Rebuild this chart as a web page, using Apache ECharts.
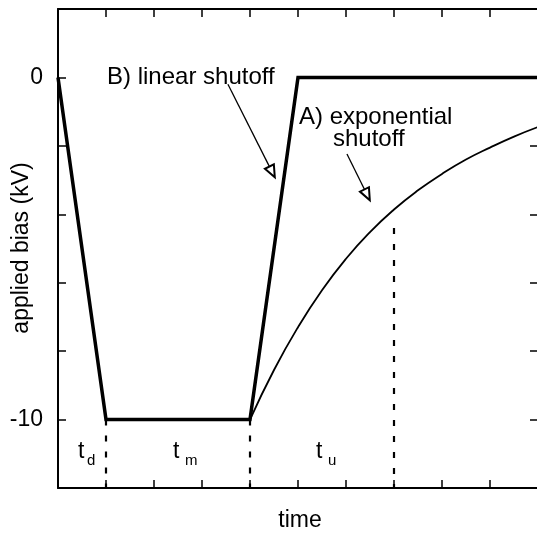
<!DOCTYPE html>
<html>
<head>
<meta charset="utf-8">
<script src="https://cdn.jsdelivr.net/npm/echarts@6/dist/echarts.min.js"></script>
<style>html,body{margin:0;padding:0;background:#fff;}#c{width:537px;height:533px;}</style>
</head>
<body>
<div id="c"></div>
<script>
// ---- data ----
const linearShutoff = [[0, 0], [1, -10], [4, -10], [5, 0], [10, 0]];
const expShutoff = [[4, -10], [4.5, -8.55], [5, -7.3], [5.5, -6.22], [6, -5.3], [6.5, -4.52], [7, -3.86],
  [7.5, -3.3], [8, -2.82], [8.5, -2.4], [9, -2.05], [9.5, -1.73], [10, -1.45]];
const dashTd = [[1, -10], [1, -12]];
const dashTm = [[4, -10], [4, -12]];
const dashTu = [[7, -4.4], [7, -12]];
const arrowB = [[3.54, -0.2], [4.46, -2.76]];
const arrowA = [[6.02, -2.24], [6.44, -3.43]];
const yTickLabels = {'0': '0', '-10': '-10'};
const xLabel = 'time';
const yLabel = 'applied bias (kV)';

const FONT = "'Liberation Sans', Arial, Helvetica, sans-serif";
const chart = echarts.init(document.getElementById('c'), null, {renderer: 'canvas'});

function axisBase(extra) {
  return Object.assign({
    type: 'value',
    axisLine: {show: true, onZero: false, lineStyle: {color: '#000', width: 2}},
    axisTick: {show: true, inside: true, length: 8, lineStyle: {color: '#000', width: 1.5}},
    splitLine: {show: false},
  }, extra);
}

function txt(x, y, s, size, align, rot) {
  return {type: 'text', x: x, y: y, rotation: rot || 0, silent: true,
    style: {text: s, fill: '#000', font: size + 'px ' + FONT, align: align || 'left', verticalAlign: 'middle'}};
}

function dashSeries(d) {
  return {type: 'line', data: d, symbol: 'none', silent: true, z: 1,
    lineStyle: {color: '#000', width: 2.2, type: [6, 10]}};
}
function arrowSeries(d) {
  return {type: 'line', data: [], symbol: 'none', silent: true,
    markLine: {silent: true, animation: false, symbol: ['none', 'emptyTriangle'], symbolSize: [10, 12],
      label: {show: false}, lineStyle: {color: '#000', width: 1.3, type: 'solid'},
      data: [[{coord: d[0]}, {coord: d[1]}]]}};
}

chart.setOption({
  animation: false,
  backgroundColor: '#fff',
  grid: {left: 58, top: 9, width: 480, height: 479, containLabel: false, outerBoundsMode: 'none'},
  xAxis: [
    axisBase({min: 0, max: 10, interval: 1, position: 'bottom', axisLabel: {show: false}}),
    axisBase({min: 0, max: 10, interval: 1, position: 'top', axisLabel: {show: false}})
  ],
  yAxis: [
    axisBase({min: -12, max: 2, interval: 2, position: 'left',
      axisLabel: {show: true, margin: 15, color: '#000', fontSize: 23, fontFamily: FONT,
        formatter: function (v) { return yTickLabels[String(v)] || ''; }}}),
    axisBase({min: -12, max: 2, interval: 2, position: 'right', axisLabel: {show: false}})
  ],
  graphic: [
    txt(300, 521, xLabel, 23, 'center'),
    txt(22, 248, yLabel, 23, 'center', Math.PI / 2),
    txt(107, 77, 'B) linear shutoff', 24),
    txt(299, 117, 'A) exponential', 24),
    txt(333, 139, 'shutoff', 24),
    txt(78, 452, 't', 23), txt(87, 461, 'd', 15),
    txt(173, 452, 't', 23), txt(185, 461, 'm', 15),
    txt(316, 452, 't', 23), txt(328, 461, 'u', 15)
  ],
  series: [
    {type: 'line', data: linearShutoff, symbol: 'none', silent: true, z: 3,
      lineStyle: {color: '#000', width: 3.5, join: 'miter'}},
    {type: 'line', data: expShutoff, symbol: 'none', smooth: true, silent: true, z: 3,
      lineStyle: {color: '#000', width: 1.8}},
    dashSeries(dashTd), dashSeries(dashTm), dashSeries(dashTu),
    arrowSeries(arrowB), arrowSeries(arrowA)
  ]
});
</script>
</body>
</html>
